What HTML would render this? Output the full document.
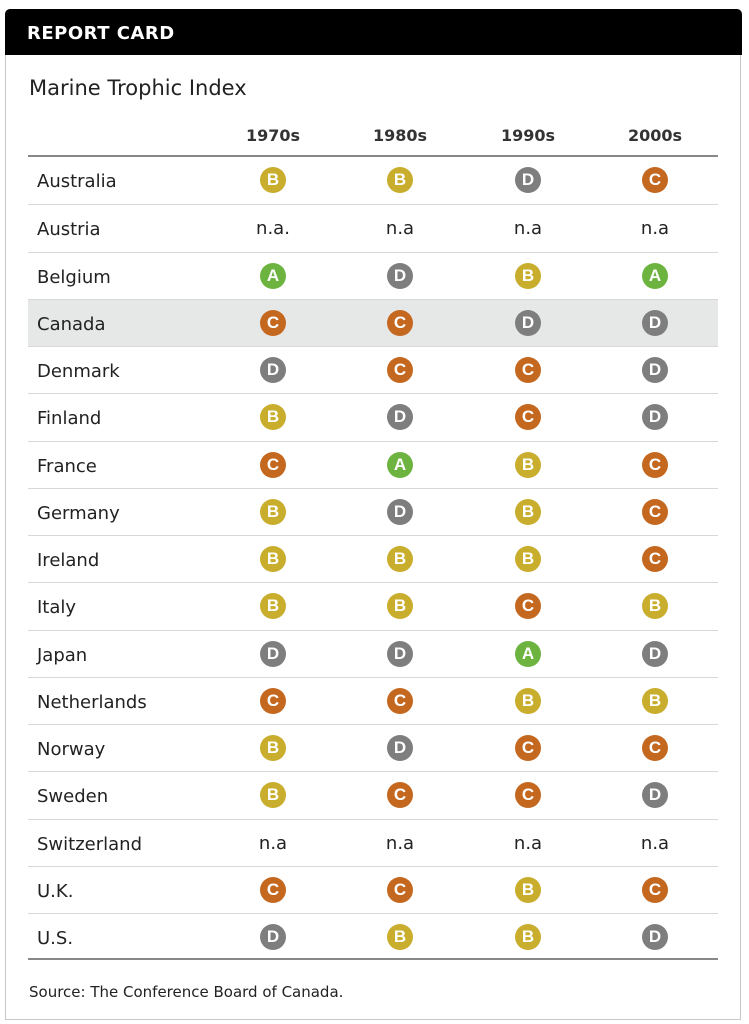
<!DOCTYPE html>
<html><head><style>
body{margin:0;width:749px;height:1024px;background:#fff;font-family:"DejaVu Sans","Liberation Sans",sans-serif;position:relative;overflow:hidden}
.card{position:absolute;left:5px;top:10px;width:736px;height:1010px;border:1px solid #c8c8c8;box-sizing:border-box;border-radius:4px 4px 0 0}
.hd{position:absolute;left:5px;top:9px;width:737px;height:46px;background:#000;border-radius:5px 5px 0 0;color:#fff;font-weight:bold;font-size:18px;line-height:50px;padding-left:22px;box-sizing:border-box;letter-spacing:0.5px}
.title{position:absolute;left:29px;top:76px;font-size:21px;color:#222}
.th{position:absolute;top:126px;font-size:16px;font-weight:bold;color:#333;width:100px;text-align:center}
.row{position:absolute;left:28px;width:690px;height:47px;border-top:1px solid #d8d8d8;box-sizing:border-box}
.name{position:absolute;left:9px;top:14px;font-size:18px;color:#222}
.c{position:absolute;top:10px;width:26px;height:26px;border-radius:50%;color:#fff;font-weight:bold;font-size:17px;line-height:26px;text-align:center;margin-left:-13px;font-family:"Liberation Sans Narrow","Liberation Sans",sans-serif}
.na{position:absolute;top:13px;width:80px;margin-left:-40px;text-align:center;font-size:18px;color:#222}
.A{background:#6db33f}.B{background:#c9ad2c}.C{background:#c5681f}.D{background:#7e7e7e}
</style></head><body>
<div class="card"></div>
<div class="hd">REPORT CARD</div>
<div class="title">Marine Trophic Index</div>
<div class="th" style="left:223px">1970s</div>
<div class="th" style="left:350px">1980s</div>
<div class="th" style="left:478px">1990s</div>
<div class="th" style="left:605px">2000s</div>
<div style="position:absolute;left:28px;top:155px;width:690px;height:2px;background:#888"></div>
<div style="position:absolute;left:28px;top:958px;width:690px;height:2px;background:#888"></div>
<div id="rows"></div>
<div style="position:absolute;left:29px;top:983px;font-size:15px;color:#222">Source: The Conference Board of Canada.</div>
<script>
var d=[["Australia","BBDC"],["Austria","xxxx"],["Belgium","ADBA"],["Canada","CCDD"],["Denmark","DCCD"],["Finland","BDCD"],["France","CABC"],["Germany","BDBC"],["Ireland","BBBC"],["Italy","BBCB"],["Japan","DDAD"],["Netherlands","CCBB"],["Norway","BDCC"],["Sweden","BCCD"],["Switzerland","xxxx"],["U.K.","CCBC"],["U.S.","DBBD"]];
var cx=[245,372,500,627],h="";
d.forEach(function(r,i){var t=157+i*47.25;h+='<div class="row" style="top:'+t+'px;'+(i==0?'border-top:none;':'')+(r[0]=="Canada"?'background:#e6e8e8;':'')+'"><div class="name">'+r[0]+'</div>';
for(var k=0;k<4;k++){var g=r[1][k];if(g=="x")h+='<div class="na" style="left:'+cx[k]+'px">'+(r[0]=="Austria"&&k==0?"n.a.":"n.a")+'</div>';else h+='<div class="c '+g+'" style="left:'+cx[k]+'px">'+g+'</div>';}
h+='</div>';});
document.getElementById("rows").innerHTML=h;
</script>
</body></html>
